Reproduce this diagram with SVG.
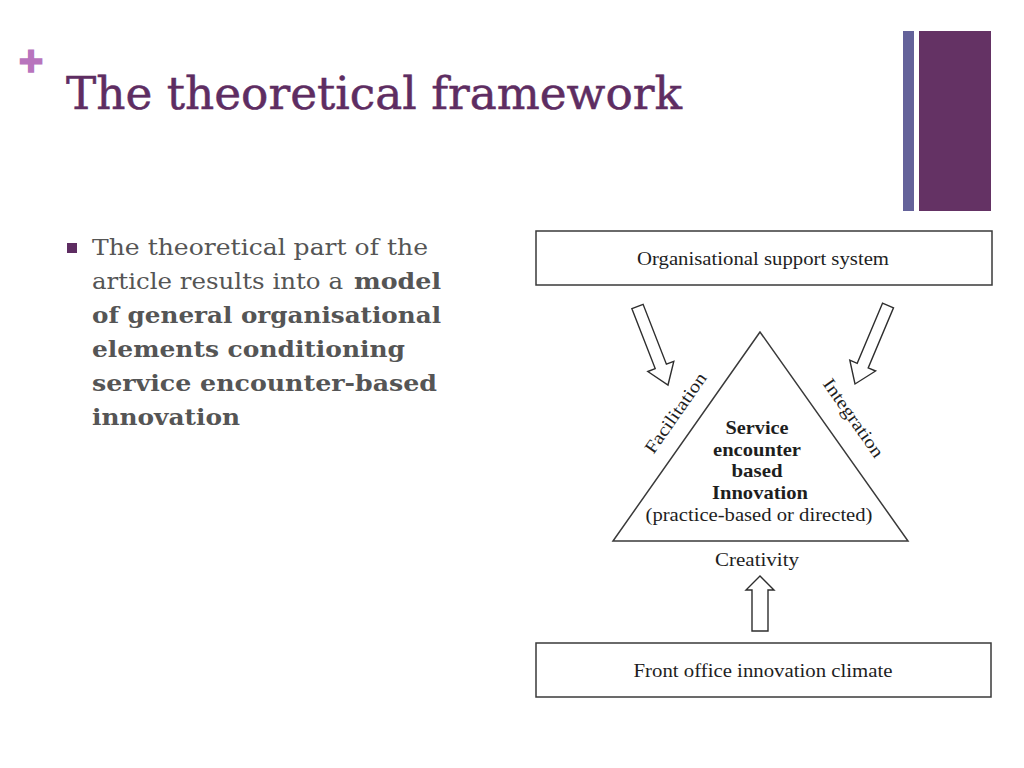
<svg xmlns="http://www.w3.org/2000/svg" width="1024" height="768" viewBox="0 0 1024 768">
<style>
.box{fill:#fff;stroke:#3a3a3a;stroke-width:1.5}
.arr{fill:#fff;stroke:#2e2e2e;stroke-width:1.4;stroke-linejoin:miter}
.dt{font-family:"Liberation Serif","DejaVu Serif",serif;fill:#1e1e1e;font-size:18px}
.db{font-family:"Liberation Serif","DejaVu Serif",serif;fill:#1e1e1e;font-size:19px;font-weight:bold}
.body{font-family:"DejaVu Serif","Liberation Serif",serif;fill:#555;font-size:22px}
</style>
<rect width="1024" height="768" fill="#fff"/>
<g id="decor">
<rect x="903" y="31" width="11" height="180" fill="#64629a"/>
<rect x="919" y="31" width="72" height="180" fill="#643264"/>
<text x="31" y="75" text-anchor="middle" font-family="Liberation Sans, sans-serif" font-weight="bold" font-size="42" fill="#b874bd" stroke="#b874bd" stroke-width="1.5">+</text>
</g>
<g id="title">
<text x="66" y="109" font-family="DejaVu Serif, serif" font-size="44" fill="#5e2d62" stroke="#5e2d62" stroke-width="0.5" textLength="616" lengthAdjust="spacingAndGlyphs">The theoretical framework</text>
</g>
<g id="bullet">
<rect x="67" y="243" width="10" height="10" fill="#5e2d62"/>
<text class="body" x="92" y="255" textLength="336" lengthAdjust="spacingAndGlyphs">The theoretical part of the</text>
<text class="body" x="92" y="289" textLength="251" lengthAdjust="spacingAndGlyphs">article results into a</text>
<text class="body" x="354" y="289" font-weight="bold" textLength="87" lengthAdjust="spacingAndGlyphs">model</text>
<text class="body" x="92" y="323" font-weight="bold" textLength="349" lengthAdjust="spacingAndGlyphs">of general organisational</text>
<text class="body" x="92" y="357" font-weight="bold" textLength="313" lengthAdjust="spacingAndGlyphs">elements conditioning</text>
<text class="body" x="92" y="391" font-weight="bold" textLength="345" lengthAdjust="spacingAndGlyphs">service encounter-based</text>
<text class="body" x="92" y="425" font-weight="bold" textLength="148" lengthAdjust="spacingAndGlyphs">innovation</text>
</g>
<g id="connectors">
<polygon class="arr" points="631.9,308.7 655.2,368.6 647.8,371.5 668,385 673.8,361.3 666.4,364.2 643.1,304.3"/>
<polygon class="arr" points="882.5,303.2 857.2,363.3 849.8,360.2 855,384 875.6,371 868.2,367.9 893.5,307.8"/>
<polygon class="arr" points="760,576 746,590 752,590 752,631 768,631 768,590 774,590"/>
<text class="dt" transform="translate(677,414) rotate(-55)" text-anchor="middle" dominant-baseline="middle" textLength="94" lengthAdjust="spacingAndGlyphs">Facilitation</text>
<text class="dt" transform="translate(852,419) rotate(55)" text-anchor="middle" dominant-baseline="middle" textLength="92" lengthAdjust="spacingAndGlyphs">Integration</text>
<text class="dt" x="757" y="566" text-anchor="middle" textLength="84" lengthAdjust="spacingAndGlyphs">Creativity</text>
</g>
<g id="node-support">
<rect class="box" x="536" y="231" width="456" height="54"/>
<text class="dt" x="763" y="265" text-anchor="middle" textLength="252" lengthAdjust="spacingAndGlyphs">Organisational support system</text>
</g>
<g id="node-innovation">
<polygon class="box" points="760,332 613,541 908,541"/>
<text class="db" x="757" y="434" text-anchor="middle" textLength="63" lengthAdjust="spacingAndGlyphs">Service</text>
<text class="db" x="757" y="456" text-anchor="middle" textLength="88" lengthAdjust="spacingAndGlyphs">encounter</text>
<text class="db" x="757" y="477" text-anchor="middle" textLength="51" lengthAdjust="spacingAndGlyphs">based</text>
<text class="db" x="760" y="499" text-anchor="middle" textLength="96" lengthAdjust="spacingAndGlyphs">Innovation</text>
<text class="dt" x="759" y="521" text-anchor="middle" textLength="227" lengthAdjust="spacingAndGlyphs">(practice-based or directed)</text>
</g>
<g id="node-climate">
<rect class="box" x="536" y="643" width="455" height="54"/>
<text class="dt" x="763" y="677" text-anchor="middle" textLength="259" lengthAdjust="spacingAndGlyphs">Front office innovation climate</text>
</g>
</svg>
